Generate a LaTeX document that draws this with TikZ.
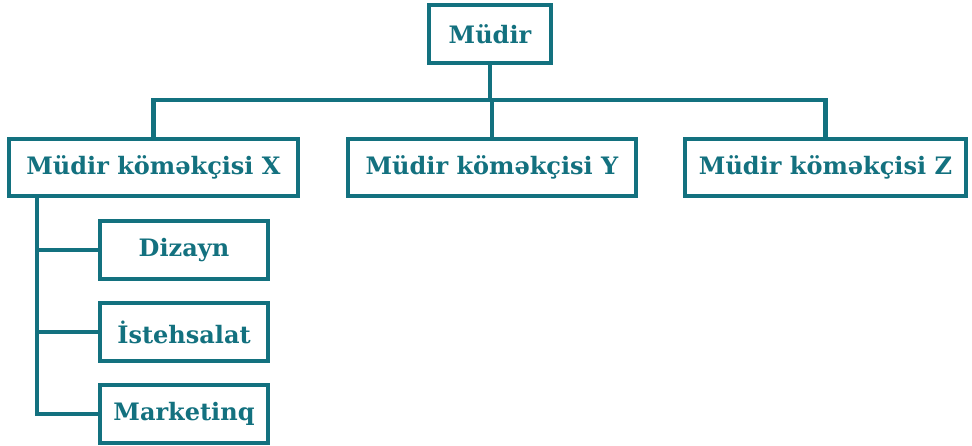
\documentclass[tikz,border=0pt]{standalone}
\usepackage{fontspec}
\setmainfont{DejaVu Serif}
\usetikzlibrary{calc}
\definecolor{teal}{HTML}{13717F}
\begin{document}
\begin{tikzpicture}[x=1pt,y=1pt,
  box/.style={draw=teal, line width=4.5pt, fill=white, rectangle, inner sep=0pt,
    text=teal, font=\bfseries\fontsize{24}{28}\selectfont},
  link/.style={draw=teal, line width=4.5pt}]
\useasboundingbox (0,0) rectangle (972,-446);

% boss and deputies
\node[box, minimum width=122, minimum height=58] (m) at (490,-34) {Müdir};
\node[box, minimum width=289, minimum height=57] (x) at (153.5,-167.5) {Müdir köməkçisi X};
\node[box, minimum width=288, minimum height=57] (y) at (492,-167.5) {Müdir köməkçisi Y};
\node[box, minimum width=281, minimum height=57] (z) at (825.5,-167.5) {Müdir köməkçisi Z};

% departments under X
\node[box, minimum width=168, minimum height=58] (d) at (184,-250) {Dizayn};
\node[box, minimum width=168, minimum height=58] (i) at (184,-332) {İstehsalat};
\node[box, minimum width=168, minimum height=58] (k) at (184,-414) {Marketinq};

% bus from the boss to the deputies
\coordinate (bus) at (0,-100);
\draw[link] (m.south) -- (m.south |- bus);
\draw[link, line cap=rect] (x.north |- bus) -- (z.north |- bus);
\draw[link] (x.north |- bus) -- (x.north);
\draw[link] (y.north |- bus) -- (y.north);
\draw[link] (z.north |- bus) -- (z.north);

% trunk down the left side to the departments
\coordinate (trunk) at (37,-198);
\draw[link, line join=miter] (trunk) |- (k.west);
\draw[link] (trunk |- d.west) -- (d.west);
\draw[link] (trunk |- i.west) -- (i.west);
\end{tikzpicture}
\end{document}
